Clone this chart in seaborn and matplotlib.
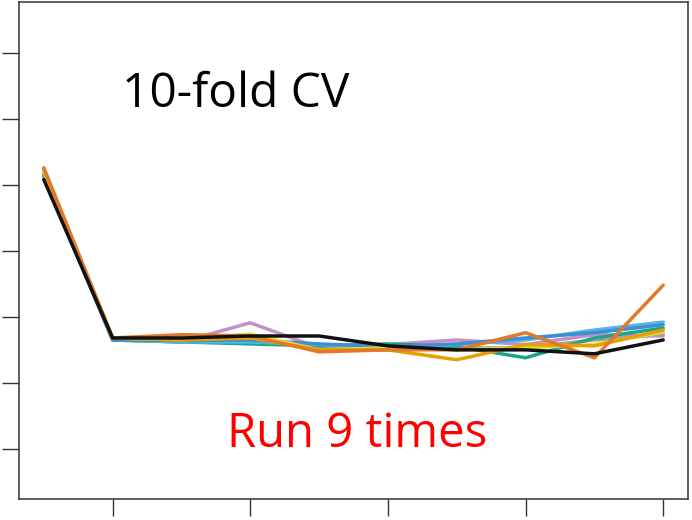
import matplotlib
matplotlib.use("Agg")
import matplotlib.pyplot as plt
import seaborn as sns
import pandas as pd

# x positions (number of folds index)
steps = [1, 2, 3, 4, 5, 6, 7, 8, 9, 10]
run_black = [5.08, 2.68, 2.68, 2.71, 2.71, 2.56, 2.50, 2.50, 2.44, 2.65]
run_gold = [5.23, 2.68, 2.65, 2.68, 2.50, 2.50, 2.35, 2.58, 2.56, 2.80]
run_sky = [5.17, 2.65, 2.62, 2.62, 2.58, 2.53, 2.58, 2.65, 2.80, 2.92]
run_green = [5.15, 2.65, 2.62, 2.59, 2.56, 2.59, 2.55, 2.38, 2.68, 2.83]
run_yellow = [5.20, 2.68, 2.65, 2.74, 2.50, 2.53, 2.50, 2.53, 2.58, 2.77]
run_orange = [5.26, 2.68, 2.73, 2.71, 2.47, 2.50, 2.50, 2.76, 2.38, 3.48]
run_pink = [5.14, 2.65, 2.62, 2.91, 2.53, 2.58, 2.65, 2.58, 2.73, 2.71]
run_grey = [5.15, 2.65, 2.64, 2.68, 2.53, 2.50, 2.53, 2.53, 2.65, 2.73]
run_blue = [5.14, 2.65, 2.64, 2.65, 2.59, 2.55, 2.59, 2.68, 2.76, 2.88]

runs = {
    "grey": run_grey, "pink": run_pink, "green": run_green, "sky": run_sky,
    "blue": run_blue, "yellow": run_yellow, "gold": run_gold,
    "orange": run_orange, "black": run_black,
}
colors = ["#A8A08A", "#C58FC8", "#1AA58A", "#56B4E9", "#3E8FD0",
          "#E8D840", "#E6A000", "#E07A2A", "#111111"]

rows = []
for name, vals in runs.items():
    for s, v in zip(steps, vals):
        rows.append({"run": name, "step": s, "err": v})
df = pd.DataFrame(rows)

sns.set_style("white")
fig = plt.figure(figsize=(6.92, 5.20), dpi=100, facecolor="white")
ax = fig.add_axes([0.0275, 0.0404, 0.9667, 0.9556])

sns.lineplot(data=df, x="step", y="err", hue="run", palette=colors,
             linewidth=2.5, legend=False, ax=ax)

ax.set_xlim(0.64, 10.36)
ax.set_ylim(0.24, 7.77)
ax.set_xticks([2, 4, 6, 8, 10])
ax.set_yticks([1, 2, 3, 4, 5, 6, 7])
ax.tick_params(axis="both", direction="out", length=12, width=1,
               color="#333333", labelbottom=False, labelleft=False,
               bottom=True, left=True)
ax.set_xlabel("")
ax.set_ylabel("")
for sp in ax.spines.values():
    sp.set_visible(True)
    sp.set_color("#333333")
    sp.set_linewidth(1.1)

fig.text(0.176, 0.794, "10-fold CV", fontsize=34.5, family=["Open Sans", "DejaVu Sans"],
         color="black", ha="left", va="baseline")
fig.text(0.328, 0.140, "Run 9 times", fontsize=34, family=["Open Sans", "DejaVu Sans"],
         color="#FF0000", ha="left", va="baseline")

plt.savefig("out.png", dpi=100, facecolor="white")
